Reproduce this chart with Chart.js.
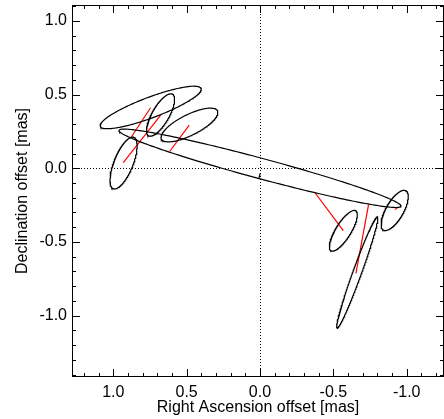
<!DOCTYPE html>
<html><head><meta charset="utf-8">
<script src="https://cdn.jsdelivr.net/npm/chart.js@4/dist/chart.umd.min.js"></script>
<style>html,body{margin:0;padding:0;background:#fff;} canvas{display:block;}</style>
</head><body>
<canvas id="c" width="444" height="419"></canvas>
<script>
// Ellipse components: centre (mas), semi-axes (mas), position angle (deg, E of N)
const ellipseX     = [ 0.000, 0.745, 0.678, 0.481, 0.930, -0.918, -0.568, -0.663];
const ellipseY     = [ 0.000, 0.413, 0.362, 0.294, 0.036, -0.286, -0.424, -0.707];
const ellipseMajor = [ 0.995, 0.367, 0.163, 0.214, 0.188,  0.154,  0.160,  0.404];
const ellipseMinor = [ 0.069, 0.070, 0.058, 0.070, 0.065,  0.060,  0.052,  0.029];
const ellipsePA    = [ 75.0, 110.5, 150.0, 116.6, 158.0,  150.0,  148.0,  160.0];
// Red offset segments
const redX1 = [0.932, 0.879, 0.616, -0.375, -0.740, -0.920];
const redY1 = [0.039, 0.209, 0.114, -0.166, -0.246, -0.280];
const redX2 = [0.678, 0.746, 0.482, -0.568, -0.654, -0.939];
const redY2 = [0.360, 0.411, 0.293, -0.423, -0.713, -0.266];
// Short black segment near the phase centre
const blackX = [-0.001, 0.007];
const blackY = [-0.034, -0.066];
// Axes
const xTickValues = [1.0, 0.5, 0.0, -0.5, -1.0];
const xTickLabels = ['1.0', '0.5', '0.0', '-0.5', '-1.0'];
const yTickValues = [1.0, 0.5, 0.0, -0.5, -1.0];
const yTickLabels = ['1.0', '0.5', '0.0', '-0.5', '-1.0'];
const xRange = [-1.2543, 1.2815];
const yRange = [-1.4168, 1.1086];
const minorStep = 0.1;
const xTitle = 'Right Ascension offset [mas]';
const yTitle = 'Declination offset [mas]';

function ellipseOutline(i) {
  const pts = [];
  const pa = ellipsePA[i] * Math.PI / 180;
  const s = Math.sin(pa), c = Math.cos(pa);
  const n = 240;
  for (let k = 0; k <= n; k++) {
    const t = 2 * Math.PI * k / n;
    const u = ellipseMajor[i] * Math.cos(t), v = ellipseMinor[i] * Math.sin(t);
    pts.push({x: ellipseX[i] + u * s + v * c, y: ellipseY[i] + u * c - v * s});
  }
  return pts;
}

const LW = 1.2;
const datasets = [];
for (let i = 0; i < ellipseX.length; i++) {
  datasets.push({data: ellipseOutline(i), borderColor: '#000', borderWidth: LW,
    showLine: true, pointRadius: 0, fill: false, tension: 0});
}
for (let i = 0; i < redX1.length; i++) {
  datasets.push({data: [{x: redX1[i], y: redY1[i]}, {x: redX2[i], y: redY2[i]}],
    borderColor: '#ff0000', borderWidth: LW, showLine: true, pointRadius: 0, fill: false});
}
datasets.push({data: [{x: blackX[0], y: blackY[0]}, {x: blackX[1], y: blackY[1]}],
  borderColor: '#000', borderWidth: LW, showLine: true, pointRadius: 0, fill: false});

const FONT = "'Liberation Sans', Arial, Helvetica, sans-serif";

const framePlugin = {
  id: 'frame',
  beforeDatasetsDraw(chart) {
    const {ctx, chartArea: a, scales: {x, y}} = chart;
    ctx.save();
    ctx.strokeStyle = '#000';
    ctx.lineWidth = 1;
    ctx.setLineDash([1, 2]);
    const px = Math.round(x.getPixelForValue(0)) + 0.5;
    const py = Math.round(y.getPixelForValue(0)) + 0.5;
    ctx.beginPath();
    ctx.moveTo(px, a.top); ctx.lineTo(px, a.bottom);
    ctx.moveTo(a.left, py); ctx.lineTo(a.right, py);
    ctx.stroke();
    ctx.restore();
  },
  afterDraw(chart) {
    const {ctx, chartArea: a, scales: {x, y}} = chart;
    ctx.save();
    ctx.strokeStyle = '#000';
    ctx.lineWidth = 1;
    ctx.setLineDash([]);
    ctx.strokeRect(a.left + 0.5, a.top + 0.5, a.right - a.left - 1, a.bottom - a.top - 1);
    const MAJ = 8, MIN = 4;
    ctx.beginPath();
    for (let k = Math.ceil(xRange[0] / minorStep); k <= Math.floor(xRange[1] / minorStep); k++) {
      const p = Math.round(x.getPixelForValue(k * minorStep)) + 0.5;
      const L = (k % 5 === 0) ? MAJ : MIN;
      ctx.moveTo(p, a.bottom); ctx.lineTo(p, a.bottom - L);
      ctx.moveTo(p, a.top); ctx.lineTo(p, a.top + L);
    }
    for (let k = Math.ceil(yRange[0] / minorStep); k <= Math.floor(yRange[1] / minorStep); k++) {
      const p = Math.round(y.getPixelForValue(k * minorStep)) + 0.5;
      const L = (k % 5 === 0) ? MAJ : MIN;
      ctx.moveTo(a.left, p); ctx.lineTo(a.left + L, p);
      ctx.moveTo(a.right, p); ctx.lineTo(a.right - L, p);
    }
    ctx.stroke();
    ctx.restore();
  }
};

function zeroPad(s) { s.paddingTop = 0; s.paddingBottom = 0; s.paddingLeft = 0; s.paddingRight = 0; }

new Chart(document.getElementById('c'), {
  type: 'scatter',
  data: {datasets},
  plugins: [framePlugin],
  options: {
    responsive: false,
    animation: false,
    events: [],
    layout: {padding: {top: 5, right: 0, bottom: 0, left: 0}},
    plugins: {legend: {display: false}, tooltip: {enabled: false}},
    scales: {
      x: {
        type: 'linear', min: xRange[0], max: xRange[1], reverse: true,
        grid: {display: false, drawTicks: false}, border: {display: false},
        afterFit(s) { s.height = 42; zeroPad(s); },
        afterBuildTicks(s) { s.ticks = xTickValues.map(v => ({value: v})); },
        ticks: {autoSkip: false, maxRotation: 0, padding: 6, color: '#000',
          font: {family: FONT, size: 16},
          callback: (v, i) => xTickLabels[i]},
        title: {display: true, text: xTitle, color: '#000', font: {family: FONT, size: 16},
          padding: {top: 0, bottom: 2}}
      },
      y: {
        type: 'linear', min: yRange[0], max: yRange[1],
        grid: {display: false, drawTicks: false}, border: {display: false},
        afterFit(s) { s.width = 72; zeroPad(s); },
        afterBuildTicks(s) { s.ticks = yTickValues.map(v => ({value: v})); },
        ticks: {autoSkip: false, padding: 5, color: '#000',
          font: {family: FONT, size: 16},
          callback: (v, i) => yTickLabels[i]},
        title: {display: true, text: yTitle, color: '#000', font: {family: FONT, size: 16},
          padding: {top: 13, bottom: 0}}
      }
    }
  }
});
</script>
</body></html>
